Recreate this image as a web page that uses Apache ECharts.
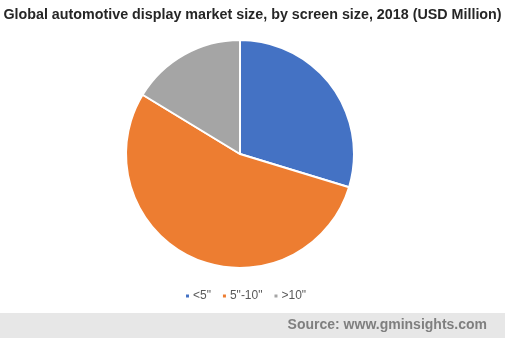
<!DOCTYPE html>
<html>
<head>
<meta charset="utf-8">
<script src="https://cdn.jsdelivr.net/npm/echarts@6/dist/echarts.min.js"></script>
<style>
  html, body { margin: 0; padding: 0; background: #fff; }
  #chart { width: 505px; height: 338px; }
</style>
</head>
<body>
<div id="chart"></div>
<script>
// Screen-size segments and their share of the 2018 market
const categories = ['<5"', '5"-10"', '>10"'];
const values = [29.7, 54.0, 16.3];
const colors = ['#4472C4', '#ED7D31', '#A5A5A5'];

const chart = echarts.init(document.getElementById('chart'), null, { renderer: 'canvas' });

chart.setOption({
  animation: false,
  title: {
    text: 'Global automotive display market size, by screen size, 2018 (USD Million)',
    left: 'center',
    top: 8,
    padding: 0,
    textStyle: {
      fontFamily: 'Liberation Sans, Arial, sans-serif',
      fontWeight: 'bold',
      fontSize: 14.3,
      color: '#262626'
    }
  },
  legend: {
    data: categories,
    top: 290,
    left: 184,
    padding: 0,
    icon: 'rect',
    itemWidth: 5,
    itemHeight: 5,
    itemGap: 10,
    textStyle: {
      fontFamily: 'Liberation Sans, Arial, sans-serif',
      fontSize: 12,
      color: '#595959',
      padding: [0, 0, 0, -2]
    }
  },
  series: [{
    type: 'pie',
    center: [240, 154],
    radius: [0, 114],
    startAngle: 90,
    clockwise: true,
    label: { show: false },
    labelLine: { show: false },
    emphasis: { disabled: true },
    itemStyle: { borderColor: '#ffffff', borderWidth: 2 },
    data: categories.map((name, i) => ({
      name: name,
      value: values[i],
      itemStyle: { color: colors[i] }
    }))
  }],
  graphic: [
    {
      type: 'rect',
      shape: { x: 0, y: 313, width: 505, height: 25 },
      style: { fill: '#E7E7E7' },
      z: 0
    },
    {
      type: 'text',
      right: 18,
      top: 318,
      style: {
        text: 'Source: www.gminsights.com',
        fontFamily: 'Liberation Sans, Arial, sans-serif',
        fontWeight: 'bold',
        fontSize: 14,
        fill: '#7F7F7F'
      },
      z: 1
    }
  ]
});
</script>
</body>
</html>
